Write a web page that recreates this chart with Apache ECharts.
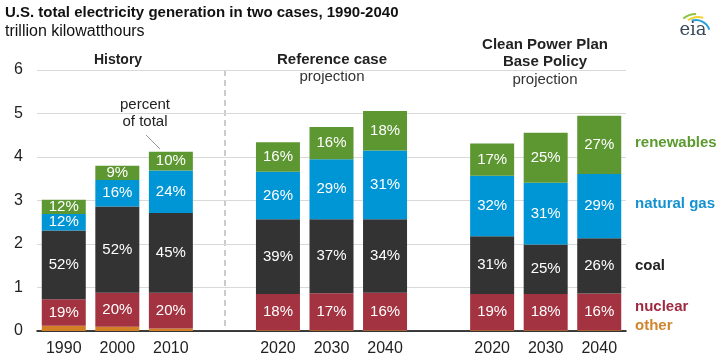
<!DOCTYPE html>
<html><head><meta charset="utf-8">
<script src="https://cdn.jsdelivr.net/npm/echarts@6/dist/echarts.min.js"></script>
<style>html,body{margin:0;padding:0;background:#fff}#c{width:722px;height:360px}</style>
</head><body><div id="c"></div>
<script>
// category keys (gaps between groups) and their displayed labels
const categories = ['1990','2000','2010','gap1','2020r','2030r','2040r','gap2','2020c','2030c','2040c'];
const categoryLabels = ['1990','2000','2010','','2020','2030','2040','','2020','2030','2040'];
const yTicks = [0,1,2,3,4,5,6];

// trillion kWh per source
const other      = [0.12, 0.10, 0.06, null, 0.02, 0.02, 0.02, null, 0.02, 0.02, 0.02];
const nuclear    = [0.61, 0.78, 0.82, null, 0.83, 0.85, 0.86, null, 0.83, 0.83, 0.84];
const coal       = [1.58, 1.98, 1.83, null, 1.72, 1.70, 1.69, null, 1.33, 1.14, 1.27];
const naturalGas = [0.38, 0.61, 0.98, null, 1.09, 1.38, 1.58, null, 1.39, 1.42, 1.48];
const renewables = [0.33, 0.33, 0.43, null, 0.68, 0.74, 0.91, null, 0.74, 1.15, 1.34];

// percent-of-total labels
const pctNuclear    = ['19%','20%','20%','','18%','17%','16%','','19%','18%','16%'];
const pctCoal       = ['52%','52%','45%','','39%','37%','34%','','31%','25%','26%'];
const pctGas        = ['12%','16%','24%','','26%','29%','31%','','32%','31%','29%'];
const pctRenewables = ['12%','9%','10%','','16%','16%','18%','','17%','25%','27%'];

const FONT = '"Liberation Sans", Arial, sans-serif';
const chart = echarts.init(document.getElementById('c'), null, {renderer:'canvas'});

function mk(name, data, color, pct){
  return {
    name, type:'bar', stack:'total', data, barWidth:44,
    itemStyle:{color},
    emphasis:{disabled:true},
    label: pct ? {show:true, position:'inside', color:'#fff', fontSize:15, fontFamily:FONT,
      formatter: p => pct[p.dataIndex]} : {show:false}
  };
}

chart.setOption({
  animation:false,
  textStyle:{fontFamily:FONT},
  grid:{left:37, top:70, width:589, height:261, containLabel:false},
  xAxis:{
    type:'category', data:categories,
    axisLine:{show:true, lineStyle:{color:'#000', width:1.5}},
    axisTick:{show:false},
    axisLabel:{fontSize:16, color:'#222', margin:10, interval:0,
      formatter:(v,i)=>categoryLabels[i]}
  },
  yAxis:{
    type:'value', min:yTicks[0], max:yTicks[yTicks.length-1], interval:1,
    axisLine:{show:false}, axisTick:{show:false},
    axisLabel:{fontSize:16, color:'#222', margin:14},
    splitLine:{lineStyle:{color:'#d9d9d9', width:1}}
  },
  series:[
    mk('other', other, '#d27f26', null),
    mk('nuclear', nuclear, '#a33340', pctNuclear),
    mk('coal', coal, '#333333', pctCoal),
    mk('natural gas', naturalGas, '#0096d6', pctGas),
    mk('renewables', renewables, '#5d9732', pctRenewables)
  ],
  graphic:[
    {type:'text', left:5, top:5, style:{text:'U.S. total electricity generation in two cases, 1990-2040', font:'bold 15px '+FONT, fill:'#111'}},
    {type:'text', left:5, top:24, style:{text:'trillion kilowatthours', font:'16px '+FONT, fill:'#111'}},
    // group headers
    {type:'text', x:118, y:60, style:{text:'History', font:'bold 14px '+FONT, fill:'#222', align:'center', verticalAlign:'middle', backgroundColor:'#fff'}},
    {type:'text', x:332, y:60, style:{text:'Reference case', font:'bold 15px '+FONT, fill:'#222', align:'center', verticalAlign:'middle'}},
    {type:'text', x:332, y:77, style:{text:'projection', font:'15px '+FONT, fill:'#333', align:'center', verticalAlign:'middle', backgroundColor:'#fff'}},
    {type:'text', x:545, y:45, style:{text:'Clean Power Plan', font:'bold 15px '+FONT, fill:'#222', align:'center', verticalAlign:'middle'}},
    {type:'text', x:545, y:62, style:{text:'Base Policy', font:'bold 15px '+FONT, fill:'#222', align:'center', verticalAlign:'middle'}},
    {type:'text', x:545, y:80, style:{text:'projection', font:'15px '+FONT, fill:'#333', align:'center', verticalAlign:'middle', backgroundColor:'#fff'}},
    // dashed divider
    {type:'line', shape:{x1:225, y1:70, x2:225, y2:329}, style:{stroke:'#999', lineWidth:1, lineDash:[6,4]}},
    // annotation
    {type:'text', x:145, y:105, style:{text:'percent', font:'15px '+FONT, fill:'#222', align:'center', verticalAlign:'middle', backgroundColor:'#fff', padding:[0,4]}},
    {type:'text', x:145, y:122, style:{text:'of total', font:'15px '+FONT, fill:'#222', align:'center', verticalAlign:'middle'}},
    {type:'line', shape:{x1:146, y1:135, x2:160, y2:149}, style:{stroke:'#999', lineWidth:1}},
    // right-side legend labels
    {type:'text', x:635, y:143, style:{text:'renewables', font:'bold 15px '+FONT, fill:'#5a9a2e', verticalAlign:'middle'}},
    {type:'text', x:635, y:204, style:{text:'natural gas', font:'bold 15px '+FONT, fill:'#1492d0', verticalAlign:'middle'}},
    {type:'text', x:635, y:266, style:{text:'coal', font:'bold 15px '+FONT, fill:'#222', verticalAlign:'middle'}},
    {type:'text', x:635, y:307, style:{text:'nuclear', font:'bold 15px '+FONT, fill:'#9e2a3f', verticalAlign:'middle'}},
    {type:'text', x:635, y:326, style:{text:'other', font:'bold 15px '+FONT, fill:'#d08630', verticalAlign:'middle'}},
    // eia logo
    {type:'arc', shape:{cx:696, cy:34, r:20, startAngle:-Math.PI*0.72, endAngle:-Math.PI*0.5}, style:{stroke:'#8cc63f', lineWidth:2, fill:null}},
    {type:'arc', shape:{cx:698, cy:34, r:17, startAngle:-Math.PI*0.7, endAngle:-Math.PI*0.4}, style:{stroke:'#f2d330', lineWidth:2, fill:null}},
    {type:'arc', shape:{cx:696, cy:34, r:14, startAngle:-Math.PI*0.6, endAngle:-Math.PI*0.1}, style:{stroke:'#2a9fd8', lineWidth:2, fill:null}},
    {type:'text', x:693, y:30, style:{text:'eia', font:'18px "DejaVu Serif", "Liberation Serif", serif', fill:'#3a4a5a', align:'center', verticalAlign:'middle'}}
  ]
});
</script></body></html>
